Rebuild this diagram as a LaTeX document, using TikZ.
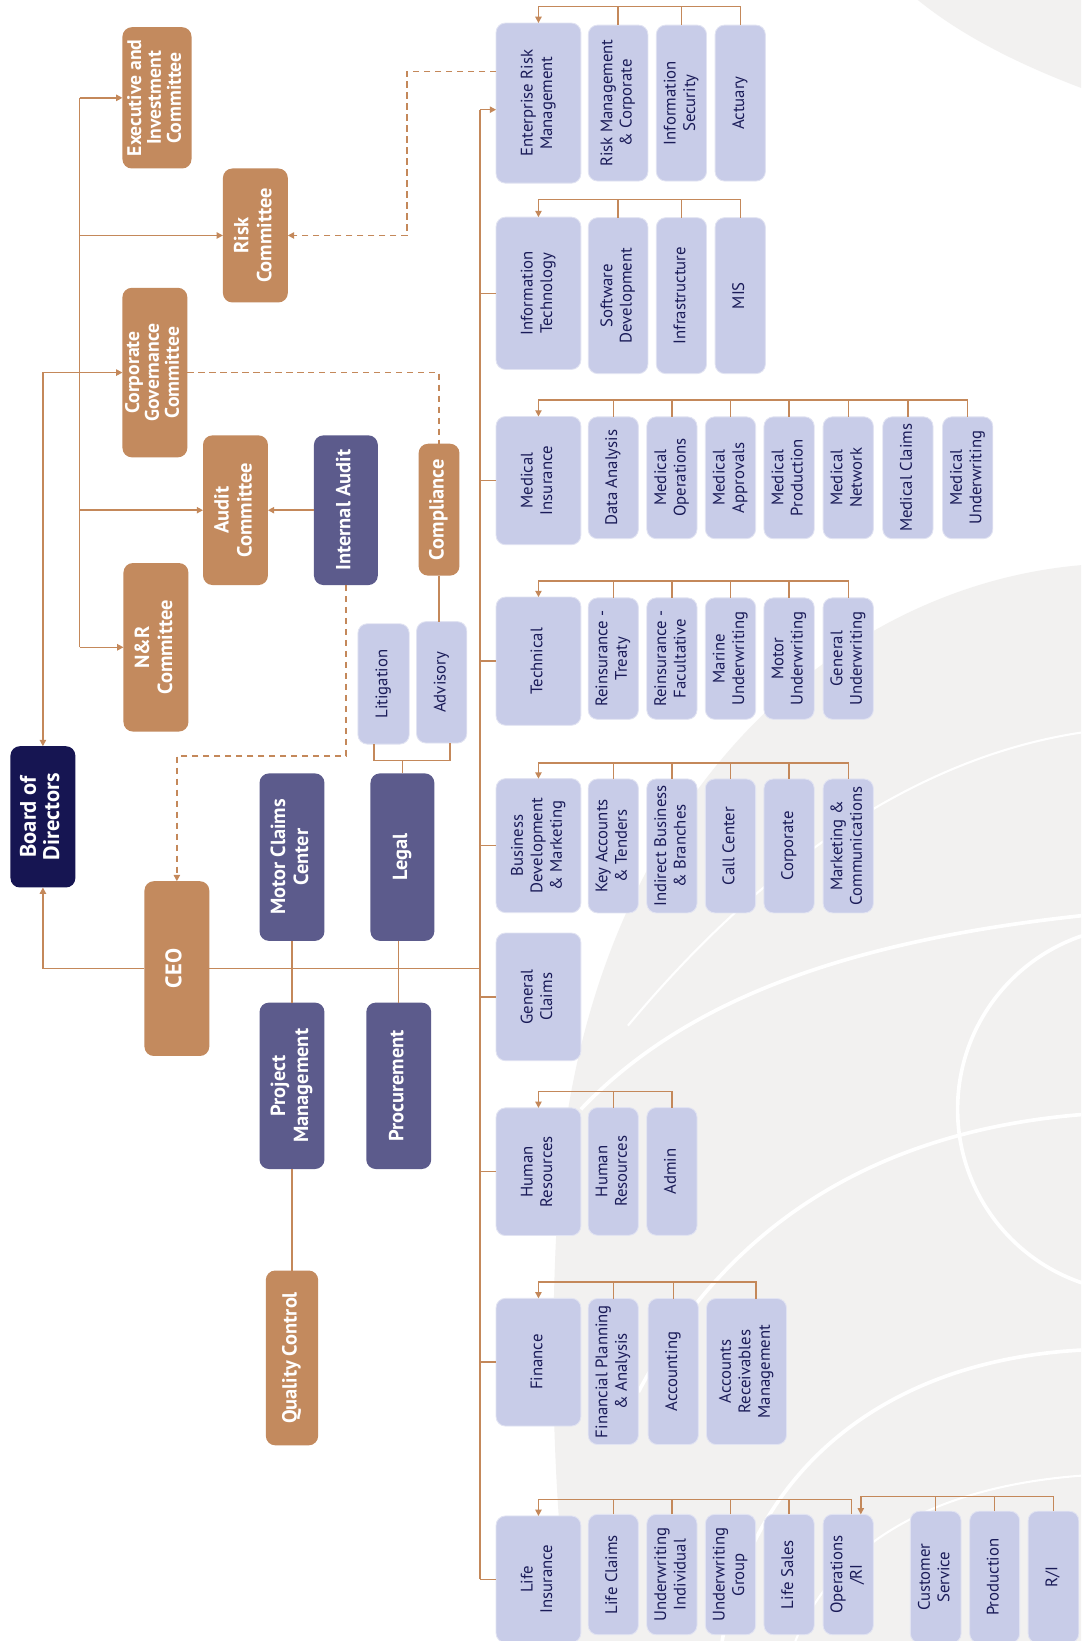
\documentclass[tikz,border=0pt]{standalone}
\usepackage{fontspec}
\setmainfont{PT Sans}
\usetikzlibrary{arrows.meta,calc}
\definecolor{cbrown}{HTML}{C38A5E}
\definecolor{cpurple}{HTML}{5C5B8C}
\definecolor{cnavy}{HTML}{161552}
\definecolor{clight}{HTML}{C8CCE8}
\definecolor{cline}{HTML}{C4885A}
\definecolor{ctext}{HTML}{1A1B58}
\definecolor{cbg}{HTML}{F2F1F0}
\newcommand\rotlab[1]{\rotatebox{90}{\begin{tabular}{@{}c@{}}#1\end{tabular}}}
\newcommand\fhd{\fontsize{19.5}{22}\selectfont\bfseries}
\newcommand\fhdt{\fontsize{18.8}{18.8}\selectfont\bfseries}
\newcommand\fbd{\fontsize{16}{18.6}\selectfont}
\newcommand\fbod{\fontsize{21.5}{22.3}\selectfont\bfseries}
\begin{document}
\begin{tikzpicture}[x=1pt,y=-1pt,
  >={Triangle[length=6pt,width=6pt]},
  base/.style={rectangle, rounded corners=9pt, inner sep=0pt, outer sep=0pt},
  brn/.style={base, fill=cbrown, text=white, font=\fhd},
  pur/.style={base, fill=cpurple, text=white, font=\fhd},
  nav/.style={base, fill=cnavy, text=white, font=\fbod},
  lb/.style={base, fill=clight, draw=clight!55!white, line width=0.8pt, text=ctext, font=\fbd},
  con/.style={draw=cline, line width=1.4pt},
  dsh/.style={dash pattern=on 6pt off 4.5pt},
  deco/.style={draw=white, line width=3.5pt}
]
\useasboundingbox (0,0) rectangle (1033,1568);
\fill[white] (0,0) rectangle (1033,1568);
% background
\fill[cbg] (1033,540) .. controls (800,560) and (570,760) .. (535,1120) .. controls (520,1330) and (535,1480) .. (545,1568) -- (1033,1568) -- cycle;
\fill[cbg] (877,0) .. controls (920,35) and (975,62) .. (1033,84) -- (1033,0) -- cycle;
\draw[deco] (555,1060) .. controls (650,960) and (800,900) .. (1033,875);
\draw[deco] (610,1330) .. controls (700,1160) and (850,1080) .. (1033,1065);
\draw[deco] (1090,1060) circle (175);
\draw[deco] (690,1568) .. controls (720,1400) and (850,1300) .. (1033,1290);
\draw[draw=white, line width=2pt] (1033,700) .. controls (900,720) and (750,800) .. (600,980);
\draw[draw=white, line width=2pt] (760,1568) .. controls (800,1470) and (900,1420) .. (1033,1410);

% left nodes
\node[brn, font=\fhdt, minimum width=66pt, minimum height=135pt] (exec) at (150,93.5) {\rotlab{Executive and\\Investment\\Committee}};
\node[brn, minimum width=62pt, minimum height=128pt] (risk) at (244,225) {\rotlab{Risk\\Committee}};
\node[brn, font=\fhdt, minimum width=62pt, minimum height=162pt] (cgov) at (148,356) {\rotlab{Corporate\\Governance\\Committee}};
\node[brn, minimum width=62pt, minimum height=143pt] (audit) at (225,487.5) {\rotlab{Audit\\Committee}};
\node[pur, minimum width=61pt, minimum height=143pt] (ia) at (330.5,487.5) {\rotlab{Internal Audit}};
\node[brn, minimum width=39pt, minimum height=126pt] (comp) at (419.5,487) {\rotlab{Compliance}};
\node[brn, minimum width=62pt, minimum height=161pt] (nr) at (149,618.5) {\rotlab{N\&R\\Committee}};
\node[nav, minimum width=62pt, minimum height=135pt] (bod) at (41,780.5) {\rotlab{Board of\\Directors}};
\node[brn, font=\fontsize{21.5}{22}\selectfont\bfseries, minimum width=62pt, minimum height=167pt] (ceo) at (169,925.5) {\rotlab{CEO}};
\node[pur, minimum width=62pt, minimum height=160pt] (mcc) at (279,819) {\rotlab{Motor Claims\\Center}};
\node[pur, minimum width=61pt, minimum height=160pt] (legal) at (384.5,819) {\rotlab{Legal}};
\node[lb, minimum width=49pt, minimum height=115pt] (lit) at (366.5,653.5) {\rotlab{Litigation}};
\node[lb, minimum width=48pt, minimum height=116pt] (adv) at (422,652) {\rotlab{Advisory}};
\node[pur, minimum width=62pt, minimum height=159pt] (pm) at (279,1037.5) {\rotlab{Project\\Management}};
\node[pur, minimum width=62pt, minimum height=159pt] (proc) at (381,1037.5) {\rotlab{Procurement}};
\node[brn, minimum width=50pt, minimum height=167pt] (qc) at (279,1297.5) {\rotlab{Quality Control}};

% right parents
\node[lb, minimum width=81pt, minimum height=153pt] (erm) at (514.5,98.5) {\rotlab{Enterprise Risk\\Management}};
\node[lb, minimum width=81pt, minimum height=145.5pt] (it) at (514.5,280.25) {\rotlab{Information\\Technology}};
\node[lb, minimum width=81pt, minimum height=122.5pt] (med) at (514.5,459.25) {\rotlab{Medical\\Insurance}};
\node[lb, minimum width=81pt, minimum height=122.5pt] (tech) at (514.5,631.75) {\rotlab{Technical}};
\node[lb, minimum width=81pt, minimum height=128pt] (bd) at (514.5,808) {\rotlab{Business\\Development\\\& Marketing}};
\node[lb, minimum width=81pt, minimum height=122pt] (gc) at (514.5,952.5) {\rotlab{General\\Claims}};
\node[lb, minimum width=81pt, minimum height=122pt] (hr) at (514.5,1119.6) {\rotlab{Human\\Resources}};
\node[lb, minimum width=81pt, minimum height=122pt] (fin) at (514.5,1301.6) {\rotlab{Finance}};
\node[lb, minimum width=81pt, minimum height=121pt] (life) at (514.5,1509) {\rotlab{Life\\Insurance}};

% ERM children
\node[lb, minimum width=57pt, minimum height=149pt] (rmc) at (590.6,98.5) {\rotlab{Risk Management\\\& Corporate}};
\node[lb, minimum width=48pt, minimum height=149pt] (isec) at (651.1,98.5) {\rotlab{Information\\Security}};
\node[lb, minimum width=48pt, minimum height=149pt] (act) at (707.3,98.5) {\rotlab{Actuary}};
% IT children
\node[lb, minimum width=57pt, minimum height=149pt] (sd) at (590.6,282.5) {\rotlab{Software\\Development}};
\node[lb, minimum width=48pt, minimum height=149pt] (inf) at (651.1,282.5) {\rotlab{Infrastructure}};
\node[lb, minimum width=48pt, minimum height=149pt] (mis) at (707.3,282.5) {\rotlab{MIS}};
% Medical children
\node[lb, minimum width=48pt, minimum height=116.4pt] (da) at (586,456.5) {\rotlab{Data Analysis}};
\node[lb, minimum width=48pt, minimum height=116.4pt] (mop) at (642,456.5) {\rotlab{Medical\\Operations}};
\node[lb, minimum width=48pt, minimum height=116.4pt] (map) at (698,456.5) {\rotlab{Medical\\Approvals}};
\node[lb, minimum width=48pt, minimum height=116.4pt] (mpr) at (754,456.5) {\rotlab{Medical\\Production}};
\node[lb, minimum width=48pt, minimum height=116.4pt] (mnw) at (810.5,456.5) {\rotlab{Medical\\Network}};
\node[lb, minimum width=48pt, minimum height=116.4pt] (mcl) at (867.5,456.5) {\rotlab{Medical Claims}};
\node[lb, minimum width=48pt, minimum height=116.4pt] (muw) at (924.6,456.5) {\rotlab{Medical\\Underwriting}};
% Technical children
\node[lb, minimum width=48pt, minimum height=116pt] (rt) at (586,629.3) {\rotlab{Reinsurance -\\Treaty}};
\node[lb, minimum width=48pt, minimum height=116pt] (rf) at (642,629.3) {\rotlab{Reinsurance -\\Facultative}};
\node[lb, minimum width=48pt, minimum height=116pt] (mu) at (698,629.3) {\rotlab{Marine\\Underwriting}};
\node[lb, minimum width=48pt, minimum height=116pt] (mou) at (754,629.3) {\rotlab{Motor\\Underwriting}};
\node[lb, minimum width=48pt, minimum height=116pt] (gu) at (810.5,629.3) {\rotlab{General\\Underwriting}};
% BD children
\node[lb, minimum width=48pt, minimum height=128pt] (ka) at (586,808.3) {\rotlab{Key Accounts\\\& Tenders}};
\node[lb, minimum width=48pt, minimum height=128pt] (ib) at (642,808.3) {\rotlab{Indirect Business\\\& Branches}};
\node[lb, minimum width=48pt, minimum height=128pt] (cc) at (698,808.3) {\rotlab{Call Center}};
\node[lb, minimum width=48pt, minimum height=128pt] (corp) at (754,808.3) {\rotlab{Corporate}};
\node[lb, minimum width=48pt, minimum height=128pt] (mc) at (810.5,808.3) {\rotlab{Marketing \&\\Communications}};
% HR children
\node[lb, minimum width=48pt, minimum height=122pt] (hrc) at (586,1119.3) {\rotlab{Human\\Resources}};
\node[lb, minimum width=48pt, minimum height=122pt] (adm) at (642,1119.3) {\rotlab{Admin}};
% Finance children
\node[lb, minimum width=48pt, minimum height=139.5pt] (fpa) at (586,1310.5) {\rotlab{Financial Planning\\\& Analysis}};
\node[lb, minimum width=48pt, minimum height=139.5pt] (acc) at (643.3,1310.5) {\rotlab{Accounting}};
\node[lb, minimum width=76.4pt, minimum height=139.5pt] (arm) at (713.3,1310.5) {\rotlab{Accounts\\Receivables\\Management}};
% Life children
\node[lb, minimum width=48pt, minimum height=115pt] (lc) at (586,1504.5) {\rotlab{Life Claims}};
\node[lb, minimum width=48pt, minimum height=115pt] (ui) at (642,1504.5) {\rotlab{Underwriting\\Individual}};
\node[lb, minimum width=48pt, minimum height=115pt] (ug) at (698,1504.5) {\rotlab{Underwriting\\Group}};
\node[lb, minimum width=48pt, minimum height=115pt] (ls) at (754,1504.5) {\rotlab{Life Sales}};
\node[lb, minimum width=48pt, minimum height=115pt] (ops) at (810.5,1504.5) {\rotlab{Operations\\/RI}};
% Operations children
\node[lb, minimum width=48.4pt, minimum height=126pt] (cs) at (894.1,1507) {\rotlab{Customer\\Service}};
\node[lb, minimum width=47.7pt, minimum height=126pt] (prd) at (950.4,1507) {\rotlab{Production}};
\node[lb, minimum width=48.4pt, minimum height=126pt] (ri) at (1006.6,1507) {\rotlab{R/I}};

% ---------- connectors left ----------
\coordinate (cb) at (76,0);
\draw[con] (cb |- exec.west) -- (cb |- nr.west);
\foreach \n in {exec,risk,audit,nr} \draw[con,->] (cb |- \n.west) -- (\n.west);
\draw[con,<->] (bod.north) |- (cgov.west);
\draw[con,->] (ia.west) -- (audit.east);
\draw[con,->] (ceo.west) -| (bod.south);
\coordinate (bus) at (458.5,104.8);
\draw[con] (ceo.east) -- (ceo.east -| bus);
\draw[con] (mcc.south) -- (pm.north);
\draw[con] (pm.south) -- (qc.north);
\draw[con] (proc.north |- legal.south) -- (proc.north);
\draw[con] (comp.south) -- (comp.south |- adv.north);
\coordinate (lbk) at (0,726.6);
\coordinate (litb) at ([xshift=-9pt]lit.south);
\coordinate (advb) at ([xshift=8pt]adv.south);
\draw[con] (litb) -- (litb |- lbk) -- (advb |- lbk) -- (advb);
\draw[con] (legal.north) -- (legal.north |- lbk);
% dashed
\coordinate (d1) at (0,722.5);
\draw[con,dsh,->] (ia.south) -- (ia.south |- d1) -| (ceo.north);
\draw[con,dsh] (cgov.east) -| (comp.north);
\coordinate (d2) at (0,68.3);
\coordinate (d3) at (389,0);
\draw[con,dsh,->] (erm.west |- d2) -- (d3 |- d2) |- (risk.east);

% ---------- main bus ----------
\draw[con] (bus) -- (bus |- life.west);
\draw[con,->] (bus) -- (bus -| erm.west);
\foreach \n in {it,med,tech,bd,gc,hr,fin,life} \draw[con] (bus |- \n.west) -- (\n.west);

% ---------- brackets ----------
\coordinate (bE) at (0,6.1);
\foreach \n in {rmc,isec} \draw[con] (\n.north) -- (\n.north |- bE);
\draw[con,->] (act.north) -- (act.north |- bE) -- (erm.north |- bE) -- (erm.north);

\coordinate (bI) at (0,190.4);
\foreach \n in {sd,inf} \draw[con] (\n.north) -- (\n.north |- bI);
\draw[con,->] (mis.north) -- (mis.north |- bI) -- (it.north |- bI) -- (it.north);

\coordinate (bM) at (0,382.3);
\foreach \n in {da,mop,map,mpr,mnw,mcl} \draw[con] (\n.north) -- (\n.north |- bM);
\draw[con,->] (muw.north) -- (muw.north |- bM) -- (med.north |- bM) -- (med.north);

\coordinate (bT) at (0,555.3);
\foreach \n in {rt,rf,mu,mou} \draw[con] (\n.north) -- (\n.north |- bT);
\draw[con,->] (gu.north) -- (gu.north |- bT) -- (tech.north |- bT) -- (tech.north);

\coordinate (bB) at (0,729);
\foreach \n in {ka,ib,cc,corp} \draw[con] (\n.north) -- (\n.north |- bB);
\draw[con,->] (mc.north) -- (mc.north |- bB) -- (bd.north |- bB) -- (bd.north);

\coordinate (bH) at (0,1042.9);
\draw[con] (hrc.north) -- (hrc.north |- bH);
\draw[con,->] (adm.north) -- (adm.north |- bH) -- (hr.north |- bH) -- (hr.north);

\coordinate (bF) at (0,1224.9);
\coordinate (armt) at ([xshift=9pt]arm.north);
\foreach \n in {fpa,acc} \draw[con] (\n.north) -- (\n.north |- bF);
\draw[con,->] (armt) -- (armt |- bF) -- (fin.north |- bF) -- (fin.north);

\coordinate (bL) at (0,1432.6);
\coordinate (opst) at ([xshift=3pt]ops.north);
\foreach \n in {lc,ui,ug,ls} \draw[con] (\n.north) -- (\n.north |- bL);
\draw[con,->] (opst) -- (opst |- bL) -- (life.north |- bL) -- (life.north);

\coordinate (bO) at (0,1430);
\coordinate (opsa) at ([xshift=12pt]ops.north);
\foreach \n in {cs,prd} \draw[con] (\n.north) -- (\n.north |- bO);
\draw[con,->] (ri.north) -- (ri.north |- bO) -- (opsa |- bO) -- (opsa);
\end{tikzpicture}
\end{document}
